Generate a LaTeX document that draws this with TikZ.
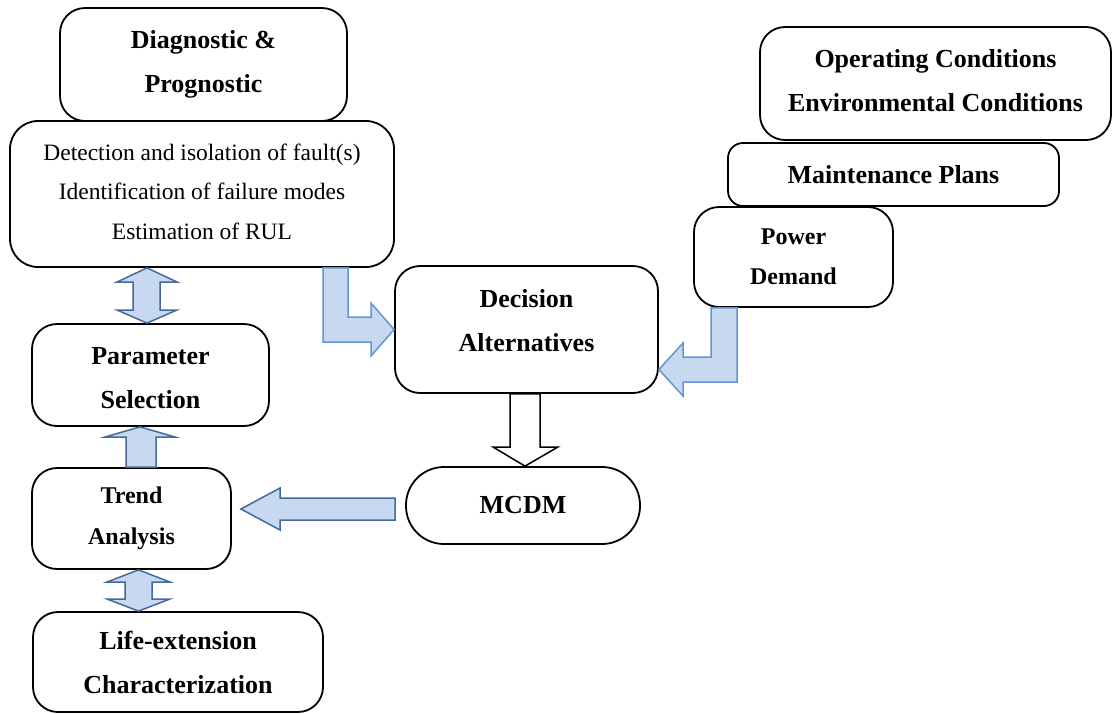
\documentclass[tikz,border=0pt]{standalone}
\usepackage{fontspec}
\setmainfont{Liberation Serif}
\usetikzlibrary{calc}
\definecolor{arrfill}{HTML}{C6D9F1}
\definecolor{arrlite}{HTML}{6495D5}
\definecolor{arrdark}{HTML}{46699B}
\newcommand{\lift}[2]{\raisebox{#1}[\height][\depth]{\begin{tabular}{@{}c@{}}#2\end{tabular}}}

\begin{document}
\begin{tikzpicture}[x=1pt,y=-1pt,
   bx/.style={draw,fill=white,line width=1.8pt,rounded corners=25pt,align=center,
      inner sep=0pt,font=\fontsize{26}{44}\selectfont\bfseries},
   bl/.style={fill=arrfill,draw=arrlite,line width=1.5pt},
   dbl/.style={fill=arrfill,draw=arrdark,line width=1.5pt},
   wh/.style={fill=white,draw=black,line width=1.5pt}]
  \useasboundingbox (0,0) rectangle (1112,713);
  % left column
  \node[bx,minimum width=287pt,minimum height=113pt] (diag) at (203.5,64.5){Diagnostic \&\\Prognostic};
  \node[bx,minimum width=384pt,minimum height=146pt,rounded corners=28pt,
     font=\fontsize{23.5}{39.5}\selectfont] (detect) at (202,194)
     {\lift{2pt}{Detection and isolation of fault(s)\\Identification of failure modes\\Estimation of RUL}};
  \node[bx,minimum width=237pt,minimum height=102pt] (param) at (150.5,375){\lift{-3pt}{Parameter\\Selection}};
  \node[bx,minimum width=199pt,minimum height=101pt,font=\fontsize{24}{41}\selectfont\bfseries] (trend) at (131.5,518.5){Trend\\Analysis};
  \node[bx,minimum width=290pt,minimum height=100pt] (life) at (178,662){Life-extension\\Characterization};
  % right stack
  \node[bx,minimum width=351pt,minimum height=113pt] (opcond) at (935.5,83.5){\lift{3pt}{Operating Conditions\\Environmental Conditions}};
  \node[bx,minimum width=331pt,minimum height=63pt,rounded corners=15pt] (maint) at (893.5,174.5){Maintenance Plans};
  \node[bx,minimum width=199pt,minimum height=100pt,font=\fontsize{24}{40}\selectfont\bfseries] (power) at (793.5,257){Power\\Demand};
  % middle
  \node[bx,minimum width=263pt,minimum height=127pt] (decision) at (526.5,329.5){\lift{9pt}{Decision\\Alternatives}};
  \node[bx,minimum width=234pt,minimum height=77pt,rounded corners=38pt] (mcdm) at (523,505.5){MCDM};
  % block arrows
  \draw[bl] (323,0 |- detect.south) -- (348,0 |- detect.south) -- (348,317) -- (371,317) -- (371,303)
     -- (decision.west) -- (371,356) -- (371,342) -- (323,342) -- cycle;
  \draw[bl] (737,0 |- power.south) -- (711,0 |- power.south) -- (711,357) -- (683,357) -- (683,343)
     -- (decision.east |- 0,369.5) -- (683,396) -- (683,382) -- (737,382) -- cycle;
  \draw[wh] (510,0 |- decision.south) -- (540,0 |- decision.south) -- (540,447) -- (558,447)
     -- (525,0 |- mcdm.north) -- (493,447) -- (510,447) -- cycle;
  \draw[dbl] (147,0 |- detect.south) -- (177,282) -- (160,282) -- (160,310) -- (177,310)
     -- (147,0 |- param.north) -- (117,310) -- (133,310) -- (133,282) -- (117,282) -- cycle;
  \draw[dbl] (140,0 |- param.south) -- (175,437) -- (156,437) -- (156,0 |- trend.north)
     -- (126,0 |- trend.north) -- (126,437) -- (105,437) -- cycle;
  \draw[dbl] ($(mcdm.west)+(-10,-7.5)$) -- ($(mcdm.west)+(-10,14.5)$) -- (280,520) -- (280,530)
     -- ($(trend.east)+(9,-9.5)$) -- (280,488) -- (280,498) -- cycle;
  \draw[dbl] (138.5,0 |- trend.south) -- (170,582) -- (152,582) -- (152,599) -- (170,599)
     -- (138.5,0 |- life.north) -- (107,599) -- (125,599) -- (125,582) -- (107,582) -- cycle;
\end{tikzpicture}
\end{document}
